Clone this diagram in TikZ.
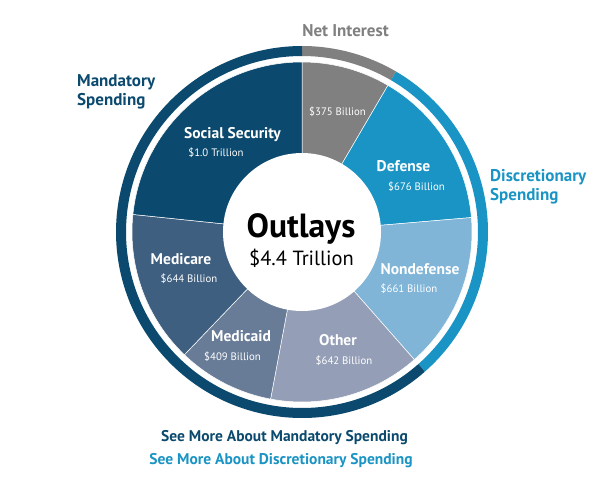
\documentclass[tikz,border=0pt]{standalone}
\usepackage{fontspec}
\setmainfont{PT Sans}
\definecolor{cSS}{HTML}{0B4A6E}
\definecolor{cMcare}{HTML}{3F5F80}
\definecolor{cMcaid}{HTML}{687C98}
\definecolor{cOther}{HTML}{949FB7}
\definecolor{cNondef}{HTML}{80B5D8}
\definecolor{cDef}{HTML}{1A94C4}
\definecolor{cNet}{HTML}{808080}
\tikzset{
  slice/.style={draw=white, line width=0.5pt},
  ringseg/.style={line width=10pt},
  sname/.style={text=white, font=\bfseries\fontsize{15.5}{15.5}\selectfont, anchor=base, inner sep=0pt},
  sval/.style={text=white, font=\fontsize{10.8}{10.8}\selectfont, anchor=base, inner sep=0pt},
  side/.style={font=\bfseries\fontsize{17}{19}\selectfont, anchor=base west, inner sep=0pt, align=left},
  link/.style={font=\bfseries\fontsize{15.5}{15.5}\selectfont, anchor=base, inner sep=0pt}
}
\begin{document}
\begin{tikzpicture}[x=1pt,y=-1pt]
\useasboundingbox[fill=white] (0,0) rectangle (607,491);
\begin{scope}[shift={(302,232)}, yscale=-1]
  % slices
  \fill[cNet, slice] (0,0) -- (90:170) arc[start angle=90, end angle=59.63, radius=170] -- cycle;
  \fill[cDef, slice] (0,0) -- (59.63:170) arc[start angle=59.63, end angle=4.88, radius=170] -- cycle;
  \fill[cNondef, slice] (0,0) -- (4.88:170) arc[start angle=4.88, end angle=-48.65, radius=170] -- cycle;
  \fill[cOther, slice] (0,0) -- (-48.65:170) arc[start angle=-48.65, end angle=-100.65, radius=170] -- cycle;
  \fill[cMcaid, slice] (0,0) -- (-100.65:170) arc[start angle=-100.65, end angle=-133.77, radius=170] -- cycle;
  \fill[cMcare, slice] (0,0) -- (-133.77:170) arc[start angle=-133.77, end angle=-185.93, radius=170] -- cycle;
  \fill[cSS, slice] (0,0) -- (-185.93:170) arc[start angle=-185.93, end angle=-270, radius=170] -- cycle;
  \fill[white] (0,0) circle[radius=79];
  % outer ring
  \draw[cNet, ringseg] (90:181) arc[start angle=90, end angle=59.63, radius=181];
  \draw[cDef, ringseg] (59.63:181) arc[start angle=59.63, end angle=-48.65, radius=181];
  \draw[cSS, ringseg] (-48.65:181) arc[start angle=-48.65, end angle=-270, radius=181];
\end{scope}
% center
\node[font=\bfseries\fontsize{33.5}{33.5}\selectfont, anchor=base, inner sep=0pt] (outlays) at (301,237.3) {Outlays};
\node[font=\fontsize{20.5}{20.5}\selectfont, anchor=base, inner sep=0pt] (total) at (301.5,265.7) {\$4.4 Trillion};
% slice labels
\node[sname] (ss) at (232.5,138.3) {Social Security};
\node[sval] (ssv) at (216,156.7) {\$1.0 Trillion};
\node[sval] (niv) at (337.5,115.7) {\$375 Billion};
\node[sname] (def) at (403.5,171.7) {Defense};
\node[sval] (defv) at (416.5,190) {\$676 Billion};
\node[sname] (nd) at (420,274) {Nondefense};
\node[sval] (ndv) at (409,292.7) {\$661 Billion};
\node[sname] (oth) at (338,345) {Other};
\node[sval] (othv) at (344,364) {\$642 Billion};
\node[sname] (mcaid) at (241,341.7) {Medicaid};
\node[sval] (mcaidv) at (232.5,360.7) {\$409 Billion};
\node[sname] (mcare) at (181,264) {Medicare};
\node[sval] (mcarev) at (189,282.7) {\$644 Billion};
% side labels
\node[side, text=cNet, anchor=base] (net) at (345.5,36.7) {Net Interest};
\node[side, text=cSS] (mand) at (77,105.7) {Mandatory\\Spending};
\node[side, text=cDef] (disc) at (490,200.7) {Discretionary\\Spending};
% links
\node[link, text=cSS] (lmand) at (284.5,441.7) {See More About Mandatory Spending};
\node[link, text=cDef] (ldisc) at (281,464.3) {See More About Discretionary Spending};
\end{tikzpicture}
\end{document}
